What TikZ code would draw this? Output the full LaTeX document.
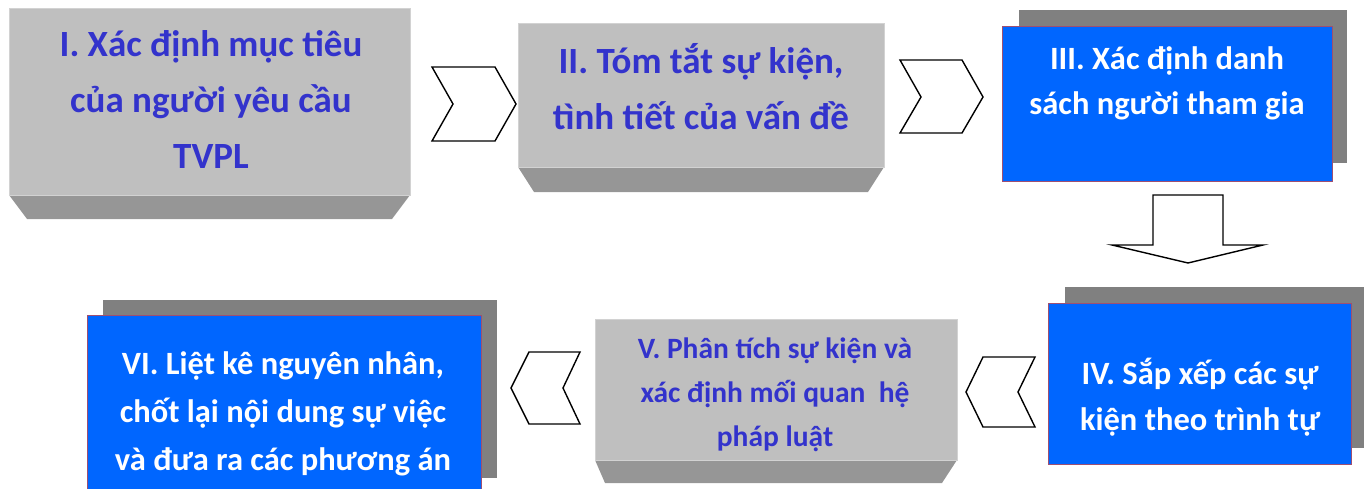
\documentclass[tikz,border=0pt]{standalone}
\usepackage{fontspec}
\setmainfont{Carlito}
\usetikzlibrary{positioning}
\definecolor{facegray}{HTML}{BFBFBF}
\definecolor{bevelgray}{HTML}{969696}
\definecolor{edgegray}{HTML}{D2D2D2}
\definecolor{stepblue}{HTML}{0066FF}
\definecolor{stepedge}{HTML}{9E4F72}
\definecolor{shadegray}{HTML}{808080}
\definecolor{textblue}{HTML}{3333CC}

\begin{document}
\begin{tikzpicture}[x=1pt, y=-1pt,
  graybox/.style={draw=edgegray, line width=1pt, fill=facegray, inner sep=0pt, anchor=north west},
  bevel/.style={fill=bevelgray},
  bluebox/.style={draw=stepedge, line width=1pt, fill=stepblue, inner sep=0pt, anchor=north west},
  shade/.style={fill=shadegray, inner sep=0pt, anchor=north west},
  graytext/.style={text=textblue, align=center, inner sep=0pt},
  bluetext/.style={text=white, align=center, inner sep=0pt},
  chev/.style={draw=black, line width=1.4pt, fill=white, line join=miter}
]
\useasboundingbox (0,0) rectangle (1364,489);

% top row
\fill[bevel] (9,195) -- (410,195) -- (392,219) -- (27,219) -- cycle;
\node[graybox, minimum width=401pt, minimum height=187pt] (s1) at (9,8) {};
\node[graytext, font=\fontsize{37}{56}\selectfont\bfseries] (t1) at (211,99)
  {I. Xác định mục tiêu\\của người yêu cầu\\TVPL};

\fill[bevel] (518,167) -- (884,167) -- (868,192) -- (534,192) -- cycle;
\node[graybox, minimum width=366pt, minimum height=144pt] (s2) at (518,23) {};
\node[graytext, font=\fontsize{37}{56}\selectfont\bfseries] (t2) at (701,87)
  {II. Tóm tắt sự kiện,\\tình tiết của vấn đề};

\node[shade, minimum width=328pt, minimum height=153pt] (h3) at (1019,10) {};
\node[bluebox, minimum width=330pt, minimum height=155pt] (s3) at (1002,26) {};
\node[bluetext, font=\fontsize{32.5}{45}\selectfont\bfseries] (t3) at (1167,83)
  {III. Xác định danh\\sách người tham gia};

% bottom row
\node[shade, minimum width=299pt, minimum height=161pt] (h4) at (1065,287) {};
\node[bluebox, minimum width=303pt, minimum height=161pt] (s4) at (1048,303) {};
\node[bluetext, font=\fontsize{32.5}{46}\selectfont\bfseries] (t4) at (1200,397)
  {IV. Sắp xếp các sự\\kiện theo trình tự};

\fill[bevel] (595,460) -- (957,460) -- (942,483) -- (605,483) -- cycle;
\node[graybox, minimum width=362pt, minimum height=141pt] (s5) at (595,319) {};
\node[graytext, font=\fontsize{29.5}{44}\selectfont\bfseries] (t5) at (775,395)
  {V. Phân tích sự kiện và\\xác định mối quan~ hệ\\pháp luật};

\node[shade, minimum width=394pt, minimum height=178pt] (h6) at (103,300) {};
\node[bluebox, minimum width=394pt, minimum height=190pt] (s6) at (87,315) {};
\node[bluetext, font=\fontsize{32.5}{48}\selectfont\bfseries] (t6) at (283,414)
  {VI. Liệt kê nguyên nhân,\\chốt lại nội dung sự việc\\và đưa ra các phương án};

% chevrons
\coordinate (c12) at (432,67);
\draw[chev] (c12) -- ++(63,0) -- ++(21,37) -- ++(-21,37) -- ++(-63,0) -- ++(21,-37) -- cycle;
\coordinate (c23) at (900,60);
\draw[chev] (c23) -- ++(62,0) -- ++(21,37) -- ++(-21,36) -- ++(-62,0) -- ++(21,-36) -- cycle;
\coordinate (c34) at (1153,195);
\draw[chev] (c34) -- ++(70,0) -- ++(0,50) -- ++(40,0) -- ++(-75,18) -- ++(-76,-18) -- ++(41,0) -- cycle;
\coordinate (c45) at (1035,357);
\draw[chev] (c45) -- ++(-52,0) -- ++(-17,35) -- ++(17,35) -- ++(52,0) -- ++(-17,-35) -- cycle;
\coordinate (c56) at (580,352);
\draw[chev] (c56) -- ++(-51,0) -- ++(-18,36) -- ++(18,36) -- ++(51,0) -- ++(-17,-36) -- cycle;
\end{tikzpicture}
\end{document}
